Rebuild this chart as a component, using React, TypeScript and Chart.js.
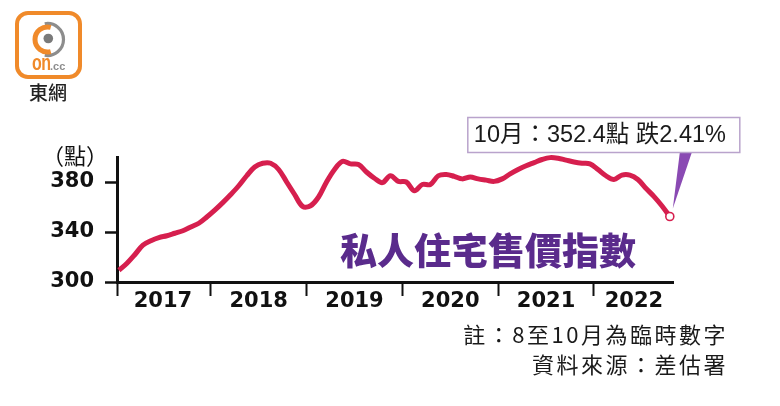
import React, { useEffect, useRef } from 'react';
import { Chart, registerables } from 'chart.js';

Chart.register(...registerables);

const years = ['2017', '2018', '2019', '2020', '2021', '2022'];
const monthsInYear = [12, 12, 12, 12, 12, 10];
const yTicks = [300, 340, 380];
const indexValues = [
  309.4, 315, 322, 329.5, 333, 335.5, 337, 339, 341, 344, 347, 352,
  357.5, 363.5, 370, 377, 385, 392, 395, 395, 390, 380, 370, 360.5,
  361, 368, 380, 390, 396.5, 394.5, 394, 388, 383, 379.5, 385, 380.5,
  380, 373, 378, 378, 385, 386, 384.5, 382.5, 384, 382.5, 381.5, 380.5,
  382.5, 386.5, 390, 393, 395.5, 398, 399.5, 399, 397.5, 396, 395, 394.5,
  390, 385, 382, 385.5, 385.5, 382, 375, 368.5, 361, 352.4,
];
const calloutText = '10月：352.4點 跌2.41%';
const unitLabel = '（點）';
const titleText = '私人住宅售價指數';
const noteLines = ['註：8至10月為臨時數字', '資料來源：差估署'];

const monthLabels: string[] = [];
years.forEach((y, i) => {
  for (let m = 1; m <= monthsInYear[i]; m++) monthLabels.push(`${y}-${String(m).padStart(2, '0')}`);
});

const X_MIN = -0.25;
const X_MAX = 69.4;

// year boundaries and year centres derived from month positions
const boundaries: number[] = [];
const centres: { v: number; label: string }[] = [];
{
  let start = 0;
  years.forEach((y, i) => {
    const end = start + monthsInYear[i] - 1;
    centres.push({ v: (start + end) / 2, label: y });
    if (i < years.length - 1) boundaries.push(end + 0.5);
    start = end + 1;
  });
}

const LINE = '#d61f4e';
const PURPLE = '#8a4ab3';

const calloutPlugin = {
  id: 'callout',
  afterDatasetsDraw(chart: any) {
    const meta = chart.getDatasetMeta(0);
    const pt = meta.data[meta.data.length - 1];
    if (!pt) return;
    const { x, y } = pt;
    const ctx = chart.ctx;
    ctx.save();
    // pointer
    ctx.fillStyle = PURPLE;
    ctx.beginPath();
    ctx.moveTo(x + 10, y - 64);
    ctx.lineTo(x + 22, y - 64);
    ctx.lineTo(x + 3, y - 8);
    ctx.closePath();
    ctx.fill();
    // box
    const bx = x - 202, by = y - 99, bw = 272, bh = 35;
    ctx.fillStyle = '#ffffff';
    ctx.fillRect(bx, by, bw, bh);
    ctx.strokeStyle = '#b9a3cc';
    ctx.lineWidth = 1.5;
    ctx.strokeRect(bx, by, bw, bh);
    ctx.fillStyle = '#1a1a1a';
    ctx.font = '23.5px "Liberation Sans", "Noto Sans CJK TC", sans-serif';
    ctx.textBaseline = 'middle';
    ctx.textAlign = 'left';
    ctx.fillText(calloutText, bx + 6, by + bh / 2 + 1);
    // marker on top
    ctx.beginPath();
    ctx.arc(x, y, 4, 0, Math.PI * 2);
    ctx.fillStyle = '#ffffff';
    ctx.fill();
    ctx.lineWidth = 1.6;
    ctx.strokeStyle = LINE;
    ctx.stroke();
    ctx.restore();
  },
};

function arcPath(cx: number, cy: number, r: number, a0: number, a1: number, sweep: number) {
  const rad = Math.PI / 180;
  const x0 = cx + r * Math.cos(a0 * rad), y0 = cy + r * Math.sin(a0 * rad);
  const x1 = cx + r * Math.cos(a1 * rad), y1 = cy + r * Math.sin(a1 * rad);
  const span = Math.abs(a1 - a0);
  const large = span > 180 ? 1 : 0;
  return `M ${x0} ${y0} A ${r} ${r} 0 ${large} ${sweep} ${x1} ${y1}`;
}

function Logo() {
  return (
    <div style={{ position: 'absolute', left: 14, top: 11, width: 72, height: 92 }}>
      <svg width={70} height={70} style={{ position: 'absolute', left: 0, top: 0 }}>
        <rect x={3} y={2} width={63} height={64} rx={11} ry={11} fill="#fff" stroke="#f08a2a" strokeWidth={4} />
        <path d={arcPath(33.5, 28.5, 16, -100, 100, 1)} fill="none" stroke="#8d8d8d" strokeWidth={3.2} />
        <path d={arcPath(33.5, 28.5, 12.5, -75, 75 - 360, 0)} fill="none" stroke="#f08a2a" strokeWidth={5} />
        <circle cx={34.3} cy={27.5} r={4.8} fill="#7a7a7a" />
        <g transform="translate(18 58.5) scale(1 1.35)">
          <text x={0} y={0} fontFamily="Liberation Sans" fontWeight="bold" fontSize={16} fill="#f08a2a" letterSpacing={-0.5}>on</text>
        </g>
        <text x={36} y={58.5} fontFamily="Liberation Sans" fontWeight="bold" fontSize={11} fill="#8d8d8d">.cc</text>
      </svg>
      <div style={{ position: 'absolute', left: 15, top: 70, fontFamily: '"Noto Sans CJK TC"', fontWeight: 500, fontSize: 19, color: '#222', lineHeight: '22px' }}>東網</div>
    </div>
  );
}

export default function App() {
  const ref = useRef<HTMLCanvasElement | null>(null);
  useEffect(() => {
    if (!ref.current) return;
    const chart = new Chart(ref.current, {
      type: 'line',
      data: {
        labels: monthLabels,
        datasets: [
          {
            data: indexValues.map((v, i) => ({ x: i, y: v })),
            borderColor: LINE,
            borderWidth: 5,
            tension: 0.35,
            pointRadius: 0,
            fill: false,
            clip: false as any,
          },
        ],
      },
      options: {
        animation: false,
        responsive: false,
        devicePixelRatio: 1,
        layout: { padding: { left: 0, top: 157, right: 107, bottom: 0 } },
        plugins: { legend: { display: false }, tooltip: { enabled: false }, title: { display: false } },
        scales: {
          x: {
            type: 'linear',
            min: X_MIN,
            max: X_MAX,
            afterBuildTicks: (s: any) => {
              const vals = [X_MIN, ...boundaries, ...centres.map((c) => c.v)].sort((a, b) => a - b);
              s.ticks = vals.map((v) => ({ value: v }));
            },
            afterFit: (s: any) => {
              s.height = 406 - 282;
            },
            border: { color: '#111', width: 3 },
            grid: {
              drawOnChartArea: false,
              drawTicks: true,
              tickLength: 14,
              tickWidth: 2,
              tickColor: (c: any) => {
                const v = c.tick ? c.tick.value : NaN;
                return v === X_MIN || boundaries.includes(v) ? '#111' : 'rgba(0,0,0,0)';
              },
            },
            ticks: {
              autoSkip: false,
              maxRotation: 0,
              padding: -7,
              color: '#111',
              font: { family: 'DejaVu Sans', weight: 'bold', size: 21 },
              callback: (v: any) => {
                const c = centres.find((cc) => Math.abs(cc.v - Number(v)) < 1e-6);
                return c ? c.label : '';
              },
            },
          },
          y: {
            min: 300,
            max: 400,
            afterBuildTicks: (s: any) => {
              s.ticks = yTicks.map((v) => ({ value: v }));
            },
            afterFit: (s: any) => {
              s.width = 117;
            },
            border: { color: '#111', width: 3 },
            grid: { drawOnChartArea: false, drawTicks: true, tickLength: 12, tickWidth: 2.5, tickColor: '#111' },
            ticks: {
              padding: 11,
              color: '#111',
              font: { family: 'DejaVu Sans', weight: 'bold', size: 21 },
            },
          },
        },
      },
      plugins: [calloutPlugin],
    });
    return () => chart.destroy();
  }, []);

  return (
    <div style={{ position: 'fixed', left: 0, top: 0, width: 780, height: 406, background: '#fff', overflow: 'hidden' }}>
      <canvas ref={ref} width={780} height={406} style={{ position: 'absolute', left: 0, top: 0, width: 780, height: 406 }} />
      <Logo />
      <div style={{ position: 'absolute', left: 42, top: 141, fontFamily: '"Noto Sans CJK TC"', fontSize: 22, lineHeight: '26px', color: '#111', whiteSpace: 'nowrap' }}>
        {unitLabel}
      </div>
      <div style={{ position: 'absolute', left: 340, top: 225, fontFamily: '"Noto Sans CJK TC"', fontWeight: 900, fontSize: 37, lineHeight: '48px', color: '#5a2b8c', whiteSpace: 'nowrap' }}>
        {titleText}
      </div>
      {noteLines.map((t, i) => (
        <div key={i} style={{ position: 'absolute', right: 780 - 728, top: 318 + i * 30, fontFamily: '"Noto Sans CJK TC"', fontSize: 22, letterSpacing: 2.5, lineHeight: '30px', color: '#1a1a1a', whiteSpace: 'nowrap' }}>
          {t}
        </div>
      ))}
    </div>
  );
}
